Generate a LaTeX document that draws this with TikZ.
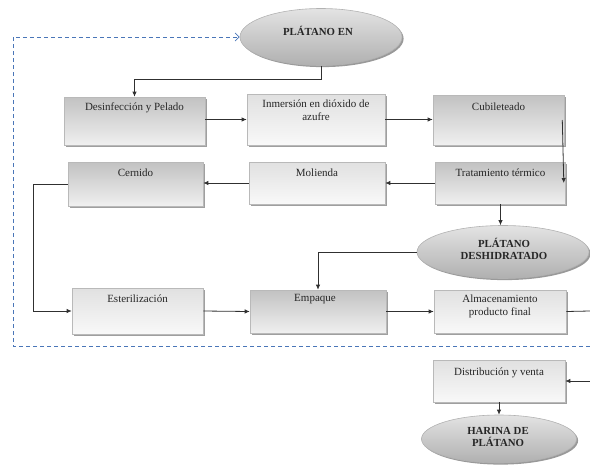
\documentclass[tikz,border=0pt]{standalone}
\usepackage{fontspec}
\setmainfont{Liberation Serif}
\usetikzlibrary{arrows.meta,shadows,calc,shapes.geometric}
\definecolor{dashblue}{HTML}{4A76B8}
\definecolor{linegray}{HTML}{303030}
\tikzset{
  procbox/.style={rectangle, draw=gray!55, line width=0.6pt, inner sep=0pt,
    drop shadow={shadow xshift=1.6pt, shadow yshift=-1.6pt, fill=gray!75, opacity=1}},
  darkbox/.style={procbox, top color=gray!48, bottom color=gray!12},
  lightbox/.style={procbox, top color=gray!24, bottom color=gray!5},
  endell/.style={ellipse, draw=gray!60, line width=0.6pt, inner sep=0pt,
    top color=gray!22, bottom color=gray!62,
    drop shadow={shadow xshift=1.6pt, shadow yshift=-1.6pt, fill=gray!80, opacity=1}},
  boxtext/.style={font=\fontsize{11}{13.5}\selectfont, align=center, text=black!85, inner sep=0pt},
  elltext/.style={font=\fontsize{10.8}{12.5}\selectfont\bfseries, align=center, text=black!85, inner sep=0pt},
  arr/.style={draw=linegray, line width=0.8pt, -{Latex[length=5pt,width=4.5pt]}},
  plain/.style={draw=linegray, line width=0.8pt},
  dashline/.style={draw=dashblue, line width=0.8pt, dash pattern=on 4pt off 3pt,
    -{Straight Barb[length=4pt,width=8pt]}}
}
\begin{document}
\begin{tikzpicture}[x=1pt,y=-1pt]
\useasboundingbox (0,0) rectangle (590,472);
% ellipses
\node[endell, minimum width=162, minimum height=57] (E1) at (321,37) {};
\node[elltext] (E1t) at (318,31) {PLÁTANO EN};
\node[endell, minimum width=172, minimum height=53] (E2) at (503,252) {};
\node[elltext] (E2t) at (504,249) {PLÁTANO\\DESHIDRATADO};
\node[endell, minimum width=155, minimum height=48] (E3) at (499,439) {};
\node[elltext] (E3t) at (498,437) {HARINA DE\\PLÁTANO};
% boxes
\node[darkbox, minimum width=141, minimum height=48] (D) at (134.5,121) {};
\node[boxtext] (Dt) at (134.5,108) {Desinfección y Pelado};
\node[lightbox, minimum width=138, minimum height=51] (I) at (316,119.5) {};
\node[boxtext] (It) at (316,110) {Inmersión en dióxido de\\azufre};
\node[darkbox, minimum width=131, minimum height=50] (C) at (498.5,120) {};
\node[boxtext] (Ct) at (498.5,107) {Cubileteado};
\node[darkbox, minimum width=130, minimum height=42] (T) at (500.5,183) {};
\node[boxtext] (Tt) at (500.5,173) {Tratamiento térmico};
\node[lightbox, minimum width=136, minimum height=42] (M) at (317,183) {};
\node[boxtext] (Mt) at (317,173) {Molienda};
\node[darkbox, minimum width=135, minimum height=44] (Ce) at (135.5,184) {};
\node[boxtext] (Cet) at (135.5,173) {Cernido};
\node[lightbox, minimum width=131, minimum height=46] (Es) at (137.5,311) {};
\node[boxtext] (Est) at (137.5,299) {Esterilización};
\node[darkbox, minimum width=136, minimum height=43] (Em) at (318,311.5) {};
\node[boxtext] (Emt) at (315,299) {Empaque};
\node[lightbox, minimum width=132, minimum height=43] (A) at (500,311.5) {};
\node[boxtext] (At) at (500,306.5) {Almacenamiento\\producto final};
\node[lightbox, minimum width=132, minimum height=42] (Di) at (499,381) {};
\node[boxtext] (Dit) at (499,373) {Distribución y venta};
% free ends
\coordinate (R1) at (590,311);
\coordinate (R2) at (590,381);
\coordinate (DL) at (13,346);
\coordinate (DR) at (590,346);
% connectors
\draw[arr] (E1.south) -- ++(0,14) -| (D.north);
\draw[arr] (D.east |- I.west) -- (I.west);
\draw[arr] (I.east) -- (C.west |- I.east);
\draw[arr] ([xshift=-2pt]C.east) -- ([xshift=-2pt]T.east);
\draw[arr] (T.west) -- (M.east);
\draw[arr] (M.west) -- (Ce.east |- M.west);
\draw[arr] (Ce.west) -- ++(-34,0) |- (Es.west);
\draw[arr] (T.south) -- (T.south |- E2.north);
\draw[arr] (E2.west) -| (Em.north);
\draw[arr] (Es.east) -- (Em.west);
\draw[arr] (Em.east) -- (A.west);
\draw[plain] (A.east) -- (R1);
\draw[arr] (R2) -- (Di.east);
\draw[arr] (Di.south) -- (E3.north);
\draw[dashline] (DR) -- (DL) |- (E1.west);
\end{tikzpicture}
\end{document}
